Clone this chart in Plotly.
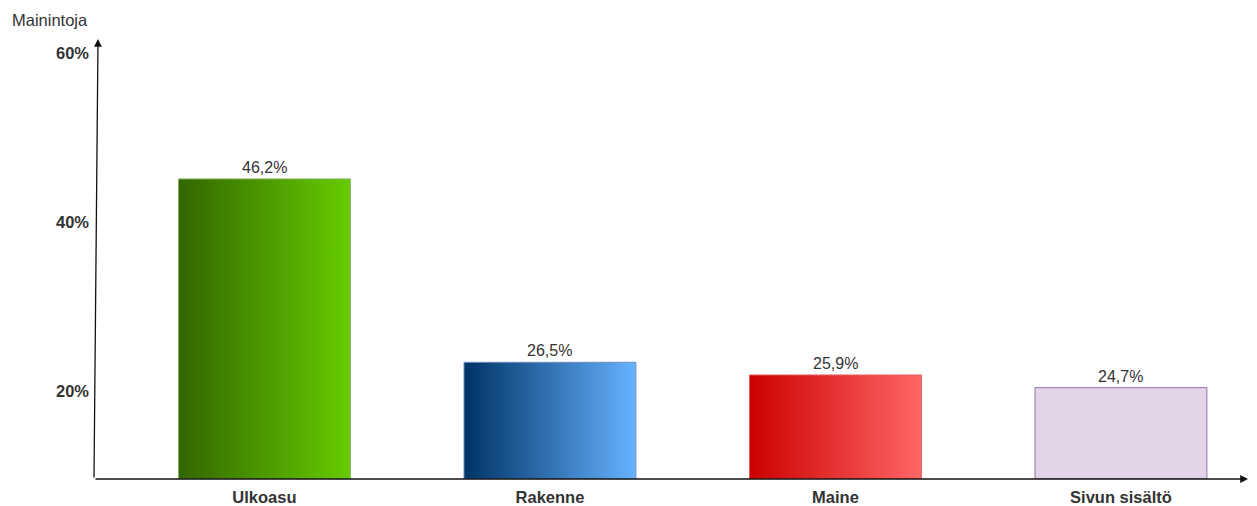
import plotly.graph_objects as go

# Data
categories = ["Ulkoasu", "Rakenne", "Maine", "Sivun sisältö"]
bar_heights = [45.1, 23.4, 21.9, 20.4]          # bar tops as read against the y axis
value_labels = ["46,2%", "26,5%", "25,9%", "24,7%"]  # labels printed above the bars
y_tick_values = [20, 40, 60]
y_tick_labels = ["20%", "40%", "60%"]

# Styles
grad_left = ["#336600", "#003366", "#CC0000", "#E1D5E7"]
grad_right = ["#66CC00", "#66B2FF", "#FF6666", "#E1D5E7"]
border_colors = ["#82B366", "#6C8EBF", "#E06060", "#9673A6"]
BAR_W = 0.602
Y_MIN, Y_MAX = 9.59, 61.66
X_MIN, X_MAX = -0.597, 3.445
FONT = "Liberation Sans, Arial, Helvetica, sans-serif"
PW, PH = 1154, 440

fig = go.Figure()
for i, (cat, h) in enumerate(zip(categories, bar_heights)):
    x0, x1 = i - BAR_W / 2, i + BAR_W / 2
    fig.add_trace(go.Scatter(
        x=[x0, x1, x1, x0, x0],
        y=[Y_MIN, Y_MIN, h, h, Y_MIN],
        mode="lines",
        fill="toself",
        line=dict(color=border_colors[i], width=1),
        fillgradient=dict(type="horizontal",
                          colorscale=[[0, grad_left[i]], [1, grad_right[i]]],
                          start=x0, stop=x1),
        hoverinfo="skip",
        showlegend=False,
    ))
    fig.add_annotation(x=i, y=h, text=value_labels[i], showarrow=False,
                       yanchor="bottom", yshift=1,
                       font=dict(family=FONT, size=16, color="#333333"))

# axis arrows
fig.add_annotation(x=1, y=0, ax=0, ay=0, xref="x domain", yref="y domain",
                   axref="x domain", ayref="y domain", text="", showarrow=True,
                   arrowhead=2, arrowsize=1.2, arrowwidth=1.3, arrowcolor="#111111")
fig.add_annotation(x=4 / PW, y=1, ax=0, ay=0, xref="x domain", yref="y domain",
                   axref="x domain", ayref="y domain", text="", showarrow=True,
                   arrowhead=2, arrowsize=1.2, arrowwidth=1.3, arrowcolor="#111111")

fig.add_annotation(x=-84 / PW, y=1 + 19 / PH, xref="x domain", yref="y domain",
                   text="Mainintoja", showarrow=False, xanchor="left", yanchor="middle",
                   font=dict(family=FONT, size=16.5, color="#333333"))

fig.update_layout(
    width=1257, height=506,
    margin=dict(l=94, r=9, t=39, b=27),
    paper_bgcolor="white", plot_bgcolor="white",
    font=dict(family=FONT, color="#333333"),
    xaxis=dict(range=[X_MIN, X_MAX], showgrid=False, zeroline=False, showline=False,
               automargin=False,
               tickvals=list(range(len(categories))),
               ticktext=[f"<b>{c}</b>" for c in categories],
               tickfont=dict(family=FONT, size=16.5, color="#333333"),
               ticks="", ticklabelstandoff=6),
    yaxis=dict(range=[Y_MIN, Y_MAX], showgrid=False, zeroline=False, showline=False,
               automargin=False,
               tickvals=y_tick_values,
               ticktext=[f"<b>{t}</b>" for t in y_tick_labels],
               tickfont=dict(family=FONT, size=16.5, color="#333333"),
               ticks="", ticklabelstandoff=4),
)

fig.write_html("out.html")
